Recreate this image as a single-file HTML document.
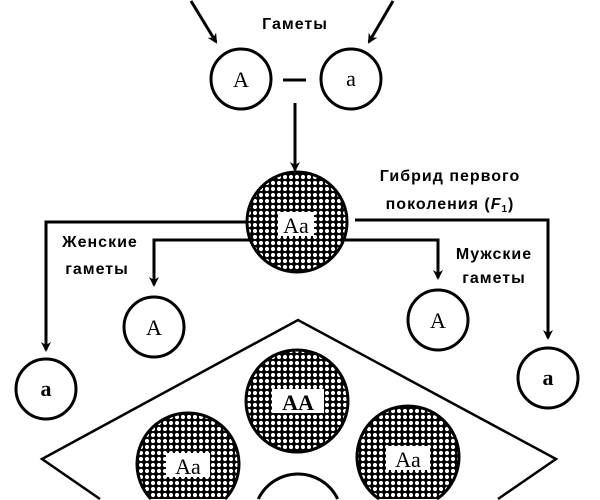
<!DOCTYPE html>
<html><head><meta charset="utf-8"><style>
html,body{margin:0;padding:0;background:#fff;width:600px;height:500px;overflow:hidden;}
svg{display:block}
.t{font-family:"Liberation Sans","DejaVu Sans",sans-serif;font-size:16px;fill:#000;letter-spacing:1px;font-weight:bold}
.l{font-family:"Liberation Serif",serif;font-size:22px;fill:#000}
</style></head><body>
<svg width="600" height="500" viewBox="0 0 600 500" xmlns="http://www.w3.org/2000/svg">
<defs>
<pattern id="dots" width="6" height="6" patternUnits="userSpaceOnUse">
<rect width="6" height="6" fill="#000"/>
<circle cx="3" cy="3" r="2.1" fill="#fff"/>
</pattern>
<marker id="ar" markerWidth="10" markerHeight="12" refX="8" refY="5" orient="auto" markerUnits="userSpaceOnUse">
<path d="M0,0 L10,5 L0,10 L3,5 Z" fill="#000"/>
</marker>
</defs>
<g stroke="#000" stroke-width="3" fill="none">
<line x1="191" y1="1" x2="216" y2="42" marker-end="url(#ar)"/>
<line x1="393" y1="1" x2="369" y2="42" marker-end="url(#ar)"/>
<line x1="295" y1="103" x2="295" y2="170" marker-end="url(#ar)"/>
<line x1="283" y1="80" x2="306" y2="80"/>
<polyline points="250,222 46,222 46,350" marker-end="url(#ar)"/>
<polyline points="250,240 154,240 154,285" marker-end="url(#ar)"/>
<polyline points="355,220 548,220 548,338" marker-end="url(#ar)"/>
<polyline points="345,240 438,240 438,278" marker-end="url(#ar)"/>
<polyline points="100,499 42,459 298,320 556,459 498,499" stroke-width="2.5"/>
<circle cx="241" cy="79" r="30"/>
<circle cx="351" cy="79" r="30"/>
<circle cx="154" cy="327" r="30"/>
<circle cx="46" cy="389" r="30"/>
<circle cx="438" cy="320" r="30"/>
<circle cx="548" cy="378" r="30"/>
<circle cx="297" cy="222" r="50" fill="url(#dots)"/>
<circle cx="297" cy="401" r="51" fill="url(#dots)"/>
<path d="M150.9,499 A51,51 0 1 1 225.1,499" fill="url(#dots)"/>
<path d="M379.1,499 A51,51 0 1 1 436.9,499" fill="url(#dots)"/>
<path d="M258.3,499 A44,44 0 0 1 337.7,499" fill="#fff"/>
</g>
<rect x="278" y="212" width="36" height="24" fill="#fff"/>
<rect x="272" y="389" width="52" height="24" fill="#fff"/>
<rect x="166" y="453" width="44" height="24" fill="#fff"/>
<rect x="386" y="446" width="44" height="24" fill="#fff"/>
<text class="l" x="296" y="233" text-anchor="middle">Aa</text>
<text class="l" x="298" y="410" text-anchor="middle" font-weight="bold">AA</text>
<text class="l" x="188" y="474" text-anchor="middle">Aa</text>
<text class="l" x="408" y="467" text-anchor="middle">Aa</text>
<text class="l" x="241" y="87" text-anchor="middle">A</text>
<text class="l" x="351" y="86" text-anchor="middle">a</text>
<text class="l" x="154" y="335" text-anchor="middle">A</text>
<text class="l" x="46" y="396" text-anchor="middle" font-weight="bold">a</text>
<text class="l" x="438" y="328" text-anchor="middle">A</text>
<text class="l" x="548" y="385" text-anchor="middle" font-weight="bold">a</text>
<text class="t" x="295" y="29" text-anchor="middle">Гаметы</text>
<text class="t" x="450" y="181" text-anchor="middle">Гибрид первого</text>
<text class="t" x="450" y="209" text-anchor="middle">поколения (<tspan font-style="italic">F</tspan><tspan font-size="10" dy="3">1</tspan><tspan dy="-3">)</tspan></text>
<text class="t" x="100" y="247" text-anchor="middle">Женские</text>
<text class="t" x="97" y="274" text-anchor="middle">гаметы</text>
<text class="t" x="494" y="259" text-anchor="middle">Мужские</text>
<text class="t" x="494" y="283" text-anchor="middle">гаметы</text>
</svg>
</body></html>
